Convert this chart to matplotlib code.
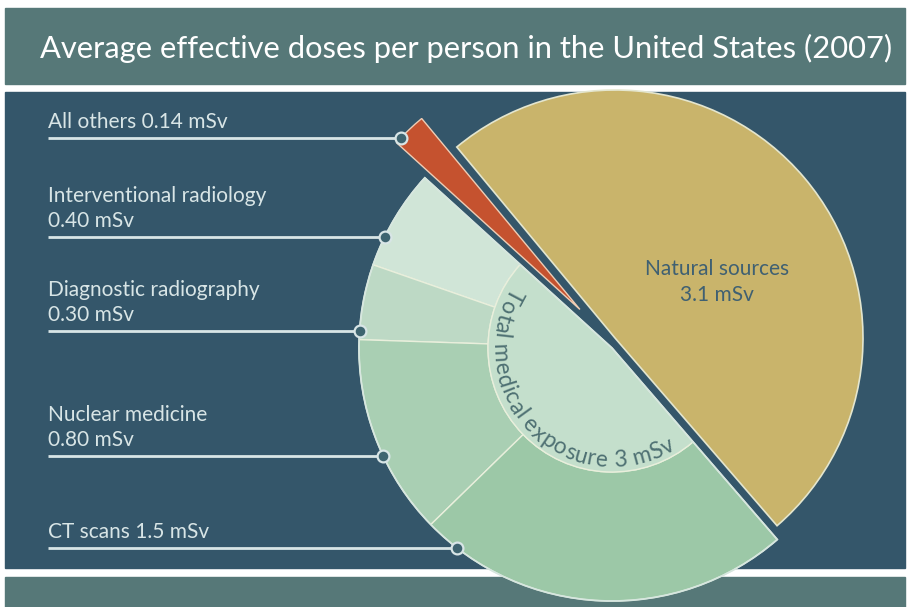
import numpy as np
import matplotlib
matplotlib.use("Agg")
import matplotlib.pyplot as plt
from matplotlib.patches import Wedge, Rectangle
from matplotlib.font_manager import FontProperties

# data
title = "Average effective doses per person in the United States (2007)"
natural_value = 3.1
natural_label = "Natural sources\n3.1 mSv"
others_value = 0.14
others_label = "All others 0.14 mSv"
medical_values = [0.40, 0.30, 0.80, 1.5]
medical_labels = ["Interventional radiology\n0.40 mSv",
                  "Diagnostic radiography\n0.30 mSv",
                  "Nuclear medicine\n0.80 mSv",
                  "CT scans 1.5 mSv"]
medical_total_label = "Total medical exposure 3 mSv"

# style / layout
W, H = 909, 607
FONT = "Lato"
BG_DARK = "#34566a"
BAND = "#567878"
LIGHT = "#d8e5e6"
NAT_COL = "#c9b46b"
RED_COL = "#c5522f"
MED_COLS = ["#d0e5d7", "#bdd9c5", "#a9cfb3", "#9cc8a7"]
INNER_COL = "#c4dfcc"

def iy(y):
    # picture rows run downwards, the axes upwards
    return H - y

fig = plt.figure(figsize=(W / 100, H / 100), dpi=100)
ax = fig.add_axes([0, 0, 1, 1])
ax.set_xlim(0, W)
ax.set_ylim(0, H)
ax.axis("off")
renderer = fig.canvas.get_renderer()


def text_w(s, size):
    fp = FontProperties(family=FONT, size=size)
    w, h, d = renderer.get_text_width_height_descent(s, fp, ismath=False)
    return w


def fit_size(s, target):
    return 10 * target / text_w(s, 10)


# background bands
ax.add_patch(Rectangle((5, iy(84)), 900, 76, color=BAND, zorder=0))
ax.add_patch(Rectangle((5, iy(568)), 900, 476, color=BG_DARK, zorder=0))
ax.add_patch(Rectangle((5, 0), 900, iy(577), color=BAND, zorder=0))

ax.text(40, iy(58), title, color="white", family=FONT,
        fontsize=fit_size(title, 855), va="baseline", ha="left", zorder=5)

# pie geometry
total = natural_value + others_value + sum(medical_values)
deg = 360.0 / total
a0 = -49.2
a1 = a0 + natural_value * deg
a2 = a1 + others_value * deg
a3 = a2 + sum(medical_values) * deg
C = np.array([611.0, iy(342)])
R_NAT = 248
R_MED = 253
R_IN = 124

N = C + np.array([4, 4])
M = C + np.array([1, -6])
t = np.radians((a1 + a2) / 2)
RC = C + 45 * np.array([np.cos(t), np.sin(t)])

ax.add_patch(Wedge(N, R_NAT, a0, a1, facecolor=NAT_COL, edgecolor="#e4e6cf", lw=1.2, zorder=2))
ax.add_patch(Wedge(RC, R_NAT, a1, a2, facecolor=RED_COL, edgecolor="#efcdb5", lw=1.0, zorder=2))

ang = a2
for v, col in zip(medical_values, MED_COLS):
    ax.add_patch(Wedge(M, R_MED, ang, ang + v * deg, width=R_MED - R_IN, facecolor=col,
                       edgecolor="#e9efdc", lw=1.0, zorder=2))
    ang += v * deg
ax.add_patch(Wedge(M, R_IN, a2, a3, facecolor=INNER_COL, edgecolor="#e9efdc", lw=1.0, zorder=2))
ax.add_patch(Wedge(M, R_MED, a2, a3, facecolor="none", edgecolor="#d6e6df", lw=1.3, zorder=3))

lab_size = fit_size("Interventional radiology", 219)

ax.text(717, iy(282), natural_label, color="#3f6072", family=FONT, fontsize=lab_size,
        ha="center", va="center", linespacing=1.35, zorder=5)

# curved label inside the medical half, letters facing the centre
r_base = 119
r_mid = 112
csize = fit_size(medical_total_label, 300)
tw = text_w(medical_total_label, csize)
start = np.radians((a2 + a3) / 2 + 1.2) - (tw / 2) / r_mid
for i, ch in enumerate(medical_total_label):
    w0 = text_w(medical_total_label[:i], csize) if i else 0
    w1 = text_w(medical_total_label[:i + 1], csize)
    phi = start + (w0 + w1) / 2 / r_mid
    x = M[0] + r_base * np.cos(phi)
    y = M[1] + r_base * np.sin(phi)
    ax.text(x, y, ch, color="#4f7173", family=FONT, fontsize=csize,
            rotation=np.degrees(phi) + 90, rotation_mode="anchor",
            ha="center", va="baseline", zorder=6)

# leader lines
line_rows = [138, 237, 331, 456, 548]
labels = [others_label] + medical_labels
centers = [(RC, R_NAT)] + [(M, R_MED)] * len(medical_labels)
for lab, row, (cen, rad) in zip(labels, line_rows, centers):
    ly = iy(row)
    mx = cen[0] - np.sqrt(rad ** 2 - (ly - cen[1]) ** 2)
    ax.plot([48, mx], [ly, ly], color=LIGHT, lw=2, solid_capstyle="butt", zorder=4)
    ax.plot(mx, ly, "o", ms=8.5, mfc="#3e6470", mec=LIGHT, mew=1.6, zorder=5)
    ax.text(48, ly + 6, lab, color=LIGHT, family=FONT, fontsize=lab_size,
            ha="left", va="bottom", linespacing=1.3, zorder=5)

fig.savefig("out.png", dpi=100, facecolor="white")
